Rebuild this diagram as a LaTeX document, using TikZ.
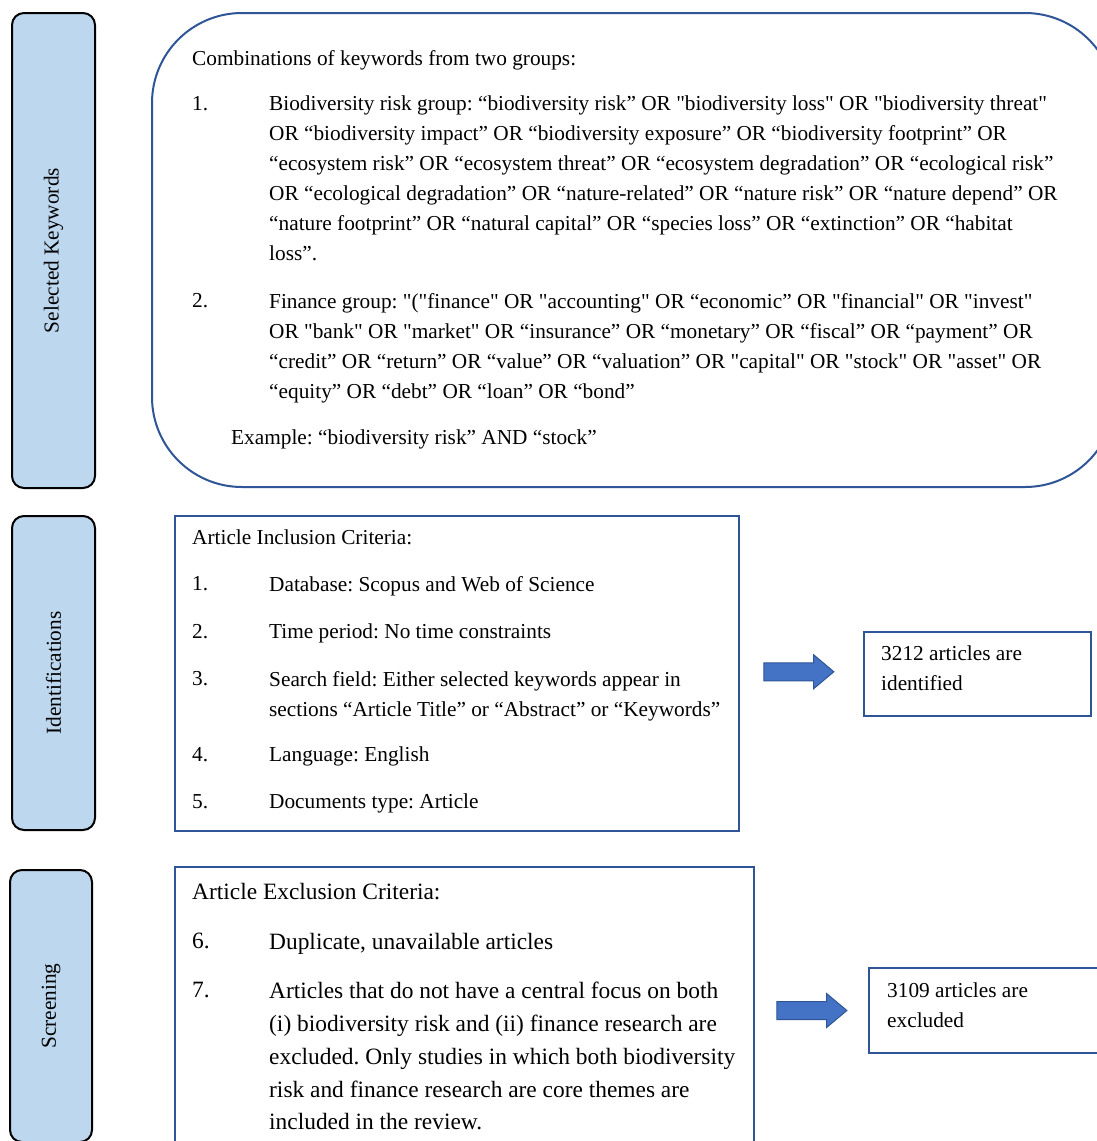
\documentclass[tikz,border=0pt]{standalone}
\usepackage{fontspec}
\defaultfontfeatures[\rmfamily]{}
\setmainfont{Liberation Serif}
\usepackage{xcolor}
\usetikzlibrary{shapes.arrows, backgrounds}

\definecolor{frameblue}{HTML}{2F5597}
\definecolor{arrowblue}{HTML}{4472C4}
\definecolor{barblue}{HTML}{BDD7EE}
\newcommand{\bodyfont}{\fontsize{21.3}{30}\selectfont\frenchspacing}
\newcommand{\bigfont}{\fontsize{23.4}{32.8}\selectfont\frenchspacing}

\begin{document}
\begin{tikzpicture}[x=1pt, y=-1pt, background rectangle/.style={fill=white}, show background rectangle, inner frame sep=0pt]
\useasboundingbox (0,0) rectangle (1096,1141);

\begin{scope}[every node/.style={draw=black, line width=2pt, fill=barblue, rounded corners=12pt, rotate=90, inner sep=0pt, font=\bodyfont}]
  \node[minimum width=475pt, minimum height=83pt] (kwbar) at (53.5,250.5) {Selected Keywords};
  \node[minimum width=314pt, minimum height=83pt] (idbar) at (53.5,673) {Identifications};
  \node[minimum width=272pt, minimum height=82pt] (scbar) at (51,1006) {Screening};
\end{scope}

\begin{scope}[every node/.style={draw=frameblue, line width=2pt, fill=white, inner sep=0pt}]
  \node[rounded corners=90pt, minimum width=963pt, minimum height=474pt] (kw) at (633.5,250) {};
  \node[minimum width=564pt, minimum height=315pt] (incl) at (457,673.5) {};
  \node[minimum width=579pt, minimum height=293pt] (excl) at (464.5,1013.5) {};
  \node[minimum width=227pt, minimum height=84pt] (ident) at (977.5,674) {};
  \node[minimum width=231pt, minimum height=85pt] (excluded) at (984.5,1010.5) {};
\end{scope}

\begin{scope}[every node/.style={single arrow, fill=arrowblue, draw=frameblue, line width=1pt, inner xsep=0pt, inner ysep=8.5pt,
              minimum height=70pt, single arrow head extend=8pt, single arrow tip angle=80}]
    \path (incl.east) -- node[xshift=-8pt, yshift=2pt] (arrA) {} (ident.west);
    \path (excl.east |- excluded.west) -- node[xshift=-5pt] (arrB) {} (excluded.west);
\end{scope}

\begin{scope}[every node/.style={anchor=north west, inner sep=0pt, align=left, font=\bodyfont}]
  \node (kwhead) at (192,50) {Combinations of keywords from two groups:};
  \node (kwn1) at (192,96) {1.};
  \node (kwi1) at (269,96) {Biodiversity risk group: “biodiversity risk” OR "biodiversity loss" OR "biodiversity threat"\\
    OR “biodiversity impact” OR “biodiversity exposure” OR “biodiversity footprint” OR\\
    “ecosystem risk” OR “ecosystem threat” OR “ecosystem degradation” OR “ecological risk”\\
    OR “ecological degradation” OR “nature-related” OR “nature risk” OR “nature depend” OR\\
    “nature footprint” OR “natural capital” OR “species loss” OR “extinction” OR “habitat\\
    loss”.};
  \node (kwn2) at (192,293) {2.};
  \node (kwi2) at (269,293) {Finance group: "("finance" OR "accounting" OR “economic” OR "financial" OR "invest"\\
    OR "bank" OR "market" OR “insurance” OR “monetary” OR “fiscal” OR “payment” OR\\
    “credit” OR “return” OR “value” OR “valuation” OR "capital" OR "stock" OR "asset" OR\\
    “equity” OR “debt” OR “loan” OR “bond”};
  \node (kwex) at (231,430) {Example: “biodiversity risk” AND “stock”};

  \node (inhead) at (192,530) {Article Inclusion Criteria:};
  \node (inn1) at (192,576) {1.};
  \node (ini1) at (269,576) {Database: Scopus and Web of Science};
  \node (inn2) at (192,624) {2.};
  \node (ini2) at (269,624) {Time period: No time constraints};
  \node (inn3) at (192,671) {3.};
  \node (ini3) at (269,671) {Search field: Either selected keywords appear in\\
    sections “Article Title” or “Abstract” or “Keywords”};
  \node (inn4) at (192,747) {4.};
  \node (ini4) at (269,747) {Language: English};
  \node (inn5) at (192,794) {5.};
  \node (ini5) at (269,794) {Documents type: Article};

  \node (idtxt) at (881,646) {3212 articles are\\identified};
  \node (extxt) at (887,983) {3109 articles are\\excluded};
\end{scope}

\begin{scope}[every node/.style={anchor=north west, inner sep=0pt, align=left, font=\bigfont}]
  \node (exhead) at (192,883) {Article Exclusion Criteria:};
  \node (exn6) at (192,933) {6.};
  \node (exi6) at (269,933) {Duplicate, unavailable articles};
  \node (exn7) at (192,982) {7.};
  \node (exi7) at (269,982) {Articles that do not have a central focus on both\\
    (i) biodiversity risk and (ii) finance research are\\
    excluded. Only studies in which both biodiversity\\
    risk and finance research are core themes are\\
    included in the review.};
\end{scope}

\end{tikzpicture}
\end{document}
